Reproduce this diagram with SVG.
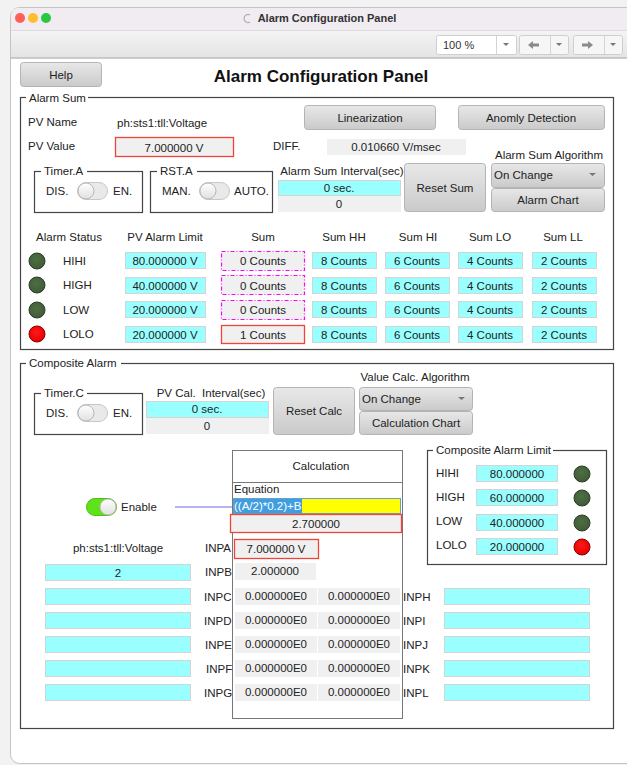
<svg xmlns="http://www.w3.org/2000/svg" width="627" height="765" viewBox="0 0 627 765">
<defs>
<linearGradient id="btn" x1="0" y1="0" x2="0" y2="1"><stop offset="0" stop-color="#e8e8e8"/><stop offset="1" stop-color="#cacaca"/></linearGradient>
<linearGradient id="tb" x1="0" y1="0" x2="0" y2="1"><stop offset="0" stop-color="#f4f4f4"/><stop offset="1" stop-color="#e4e4e4"/></linearGradient>
<linearGradient id="knob" x1="0" y1="0" x2="0" y2="1"><stop offset="0" stop-color="#ffffff"/><stop offset="1" stop-color="#e0e0e0"/></linearGradient>
<radialGradient id="ledg" cx="0.45" cy="0.4" r="0.6"><stop offset="0" stop-color="#4f6e45"/><stop offset="1" stop-color="#3f5c36"/></radialGradient>
<radialGradient id="ledr" cx="0.45" cy="0.4" r="0.6"><stop offset="0" stop-color="#ff1a1a"/><stop offset="1" stop-color="#e60000"/></radialGradient>
</defs>
<style>
text{font-family:"Liberation Sans",Arial,sans-serif;font-size:11.5px;fill:#222}
.c{text-anchor:middle}
.r{text-anchor:end}
.btn{fill:url(#btn);stroke:#b4b4b4;stroke-width:1}
.cy{fill:#99ffff;stroke:#d4d4d4;stroke-width:1}
.gy{fill:#f0f0f0;stroke:none}
.gb{fill:none;stroke:#444;stroke-width:1.2}
.lbl{fill:#fff}
.red{fill:#f0f0f0;stroke:#f0433a;stroke-width:1.3}
.mag{fill:#f0f0f0;stroke:#ff00ff;stroke-width:1.2;stroke-dasharray:4 2 1 2}
.ledg{fill:url(#ledg);stroke:#2b3d25;stroke-width:1}
.ledr{fill:url(#ledr);stroke:#8a0000;stroke-width:1}
.tog{fill:#e9e9e9;stroke:#c8c8c8;stroke-width:1}
.kn{fill:url(#knob);stroke:#b8b8b8;stroke-width:1}
.arr{fill:#777}
</style>
<rect width="627" height="765" fill="#f2f2f2"/>
<!-- window -->
<g id="window">
<rect x="10.5" y="7.5" width="630" height="756" rx="9" fill="#ffffff" stroke="#c4c4c4"/>
<path d="M11,30 V16 Q11,8 19,8 H627 V30 Z" fill="#f0ecf2"/>
<rect x="11" y="30" width="616" height="28" fill="url(#tb)"/>
<line x1="11" y1="30.5" x2="627" y2="30.5" stroke="#dcdcdc"/>
<line x1="11" y1="58" x2="627" y2="58" stroke="#bdbdbd" stroke-width="1.5"/>
<circle cx="20" cy="18" r="5" fill="#fe5f57"/>
<circle cx="33" cy="18" r="5" fill="#febc2e"/>
<circle cx="46" cy="18" r="5" fill="#28c840"/>
<path d="M250,15 A4,4 0 1 0 250,22" fill="none" stroke="#b0b0b0" stroke-width="1.2"/>
<text x="327" y="22" class="c" style="font-size:11px;font-weight:bold;fill:#333">Alarm Configuration Panel</text>
</g>
<g id="toolbar">
<rect x="436.5" y="35.5" width="80" height="19" rx="2" fill="#fff" stroke="#cfcfcf"/>
<line x1="496.5" y1="36" x2="496.5" y2="54" stroke="#d4d4d4"/>
<text x="443" y="49" style="font-size:11px;fill:#333">100 %</text>
<path d="M503,43 h6 l-3,3 z" class="arr"/>
<rect x="519.5" y="35.5" width="49" height="19" rx="2" fill="#f6f6f6" stroke="#cfcfcf"/>
<line x1="550.5" y1="36" x2="550.5" y2="54" stroke="#d4d4d4"/>
<path d="M528,45 l5,-4 v2.5 h6 v3 h-6 v2.5 z" fill="#8a8a8a"/>
<path d="M556,43 h6 l-3,3 z" class="arr"/>
<rect x="573.5" y="35.5" width="49" height="19" rx="2" fill="#f6f6f6" stroke="#cfcfcf"/>
<line x1="604.5" y1="36" x2="604.5" y2="54" stroke="#d4d4d4"/>
<path d="M593,45 l-5,-4 v2.5 h-6 v3 h6 v2.5 z" fill="#8a8a8a"/>
<path d="M610,43 h6 l-3,3 z" class="arr"/>
</g>
<!-- header -->
<g id="help"><rect x="20.5" y="62.5" width="81" height="24" rx="3" class="btn"/><text x="61" y="79" class="c">Help</text></g>
<text id="title" x="321" y="82" class="c" style="font-size:17px;font-weight:bold;fill:#111">Alarm Configuration Panel</text>
<!-- Alarm Sum group -->
<g id="alarmSum">
<rect x="20.5" y="97.5" width="593" height="252" class="gb"/>
<rect x="26" y="90" width="62" height="14" class="lbl"/>
<text x="29" y="102">Alarm Sum</text>
</g>
<g id="pvName"><text x="28" y="126">PV Name</text><text x="117" y="127">ph:sts1:tll:Voltage</text></g>
<g id="pvValue"><text x="28" y="150">PV Value</text><rect x="115.5" y="137.5" width="118" height="19" class="red"/><text x="174" y="152" class="c">7.000000 V</text></g>
<g id="diff"><text x="273" y="150">DIFF.</text><rect x="327" y="139" width="139" height="16" class="gy"/><text x="396" y="151" class="c">0.010660 V/msec</text></g>
<g id="linearization"><rect x="304.5" y="105.5" width="131" height="24" rx="3" class="btn"/><text x="370" y="122" class="c">Linearization</text></g>
<g id="anomaly"><rect x="458.5" y="105.5" width="146" height="24" rx="3" class="btn"/><text x="531" y="122" class="c">Anomly Detection</text></g>
<g id="timerA">
<rect x="34.5" y="171.5" width="108" height="41" class="gb"/>
<rect x="41" y="164" width="46" height="14" class="lbl"/>
<text x="44" y="175">Timer.A</text>
<text x="46" y="195">DIS.</text>
<rect x="77.5" y="182.5" width="30" height="17" rx="8.5" class="tog"/>
<circle cx="86" cy="191" r="8" class="kn"/>
<text x="113" y="195">EN.</text>
</g>
<g id="rstA">
<rect x="150.5" y="171.5" width="122" height="41" class="gb"/>
<rect x="157" y="164" width="40" height="14" class="lbl"/>
<text x="160" y="175">RST.A</text>
<text x="162" y="195">MAN.</text>
<rect x="199.5" y="182.5" width="30" height="17" rx="8.5" class="tog"/>
<circle cx="208" cy="191" r="8" class="kn"/>
<text x="234" y="195">AUTO.</text>
</g>
<g id="sumInterval">
<text x="342" y="175" class="c">Alarm Sum Interval(sec)</text>
<rect x="278.5" y="180.5" width="122" height="15" class="cy"/><text x="339" y="192" class="c">0 sec.</text>
<rect x="278" y="196" width="123" height="16" class="gy"/><text x="339" y="208" class="c">0</text>
</g>
<g id="resetSum"><rect x="404.5" y="163.5" width="81" height="48" rx="3" class="btn"/><text x="445" y="192" class="c">Reset Sum</text></g>
<g id="sumAlgo">
<text x="549" y="159" class="c">Alarm Sum Algorithm</text>
<rect x="491.5" y="163.5" width="113" height="24" rx="3" class="btn"/>
<text x="494" y="179">On Change</text><path d="M589,173 h7 l-3.5,3 z" class="arr"/>
<rect x="491.5" y="188.5" width="113" height="23" rx="3" class="btn"/><text x="548" y="204" class="c">Alarm Chart</text>
</g>
<!-- table -->
<g id="tableHeader">
<text x="69" y="241" class="c">Alarm Status</text>
<text x="165" y="241" class="c">PV Alarm Limit</text>
<text x="263" y="241" class="c">Sum</text>
<text x="344" y="241" class="c">Sum HH</text>
<text x="418" y="241" class="c">Sum HI</text>
<text x="490" y="241" class="c">Sum LO</text>
<text x="563" y="241" class="c">Sum LL</text>
</g>
<g id="rowHIHI">
<circle cx="37" cy="261" r="8" class="ledg"/><text x="63" y="265">HIHI</text>
<rect x="125.5" y="252.5" width="80" height="16" class="cy"/><text x="165" y="265" class="c">80.000000 V</text>
<rect x="221.5" y="251.5" width="83" height="19" class="mag"/><text x="263" y="265" class="c">0 Counts</text>
<rect x="312.5" y="252.5" width="64" height="16" class="cy"/><text x="344" y="265" class="c">8 Counts</text>
<rect x="385.5" y="252.5" width="64" height="16" class="cy"/><text x="417" y="265" class="c">6 Counts</text>
<rect x="458.5" y="252.5" width="64" height="16" class="cy"/><text x="490" y="265" class="c">4 Counts</text>
<rect x="532.5" y="252.5" width="64" height="16" class="cy"/><text x="564" y="265" class="c">2 Counts</text>
</g>
<g id="rowHIGH">
<circle cx="37" cy="285" r="8" class="ledg"/><text x="63" y="289">HIGH</text>
<rect x="125.5" y="277.5" width="80" height="16" class="cy"/><text x="165" y="290" class="c">40.000000 V</text>
<rect x="221.5" y="275.5" width="83" height="19" class="mag"/><text x="263" y="290" class="c">0 Counts</text>
<rect x="312.5" y="277.5" width="64" height="16" class="cy"/><text x="344" y="290" class="c">8 Counts</text>
<rect x="385.5" y="277.5" width="64" height="16" class="cy"/><text x="417" y="290" class="c">6 Counts</text>
<rect x="458.5" y="277.5" width="64" height="16" class="cy"/><text x="490" y="290" class="c">4 Counts</text>
<rect x="532.5" y="277.5" width="64" height="16" class="cy"/><text x="564" y="290" class="c">2 Counts</text>
</g>
<g id="rowLOW">
<circle cx="37" cy="310" r="8" class="ledg"/><text x="63" y="314">LOW</text>
<rect x="125.5" y="301.5" width="80" height="16" class="cy"/><text x="165" y="314" class="c">20.000000 V</text>
<rect x="221.5" y="300.5" width="83" height="19" class="mag"/><text x="263" y="314" class="c">0 Counts</text>
<rect x="312.5" y="301.5" width="64" height="16" class="cy"/><text x="344" y="314" class="c">8 Counts</text>
<rect x="385.5" y="301.5" width="64" height="16" class="cy"/><text x="417" y="314" class="c">6 Counts</text>
<rect x="458.5" y="301.5" width="64" height="16" class="cy"/><text x="490" y="314" class="c">4 Counts</text>
<rect x="532.5" y="301.5" width="64" height="16" class="cy"/><text x="564" y="314" class="c">2 Counts</text>
</g>
<g id="rowLOLO">
<circle cx="37" cy="334" r="8" class="ledr"/><text x="63" y="338">LOLO</text>
<rect x="125.5" y="326.5" width="80" height="16" class="cy"/><text x="165" y="339" class="c">20.000000 V</text>
<rect x="221.5" y="325.5" width="83" height="18" class="red"/><text x="263" y="339" class="c">1 Counts</text>
<rect x="312.5" y="326.5" width="64" height="16" class="cy"/><text x="344" y="339" class="c">8 Counts</text>
<rect x="385.5" y="326.5" width="64" height="16" class="cy"/><text x="417" y="339" class="c">6 Counts</text>
<rect x="458.5" y="326.5" width="64" height="16" class="cy"/><text x="490" y="339" class="c">4 Counts</text>
<rect x="532.5" y="326.5" width="64" height="16" class="cy"/><text x="564" y="339" class="c">2 Counts</text>
</g>
<!-- Composite Alarm group -->
<g id="compositeAlarm">
<rect x="20.5" y="363.5" width="593" height="365" class="gb"/>
<rect x="26" y="356" width="95" height="14" class="lbl"/>
<text x="29" y="367">Composite Alarm</text>
</g>
<g id="timerC">
<rect x="34.5" y="393.5" width="108" height="41" class="gb"/>
<rect x="41" y="386" width="46" height="14" class="lbl"/>
<text x="44" y="397">Timer.C</text>
<text x="46" y="417">DIS.</text>
<rect x="77.5" y="404.5" width="30" height="17" rx="8.5" class="tog"/>
<circle cx="86" cy="413" r="8" class="kn"/>
<text x="113" y="417">EN.</text>
</g>
<g id="calInterval">
<text x="211" y="397" class="c" xml:space="preserve">PV Cal.  Interval(sec)</text>
<rect x="146.5" y="401.5" width="122" height="16" class="cy"/><text x="207" y="413" class="c">0 sec.</text>
<rect x="146" y="418" width="123" height="16" class="gy"/><text x="207" y="430" class="c">0</text>
</g>
<g id="resetCalc"><rect x="273.5" y="387.5" width="81" height="47" rx="3" class="btn"/><text x="314" y="415" class="c">Reset Calc</text></g>
<g id="calcAlgo">
<text x="415" y="381" class="c">Value Calc. Algorithm</text>
<rect x="359.5" y="387.5" width="113" height="23" rx="3" class="btn"/>
<text x="362" y="403">On Change</text><path d="M458,397 h7 l-3.5,3 z" class="arr"/>
<rect x="359.5" y="411.5" width="113" height="23" rx="3" class="btn"/><text x="416" y="427" class="c">Calculation Chart</text>
</g>
<g id="enable">
<rect x="86.5" y="498.5" width="30" height="17" rx="8.5" fill="#5fe21a" stroke="#4cc010"/>
<circle cx="108" cy="507" r="8" class="kn"/>
<text x="121" y="511">Enable</text>
</g>
<g id="connectors">
<line x1="175" y1="507" x2="233" y2="507" stroke="#6a6ae8" stroke-width="1.2"/>
</g>
<g id="calculation">
<rect x="232.5" y="450.5" width="170" height="268" fill="#fff" stroke="#777"/>
<line x1="233" y1="482.5" x2="402" y2="482.5" stroke="#777"/>
<text x="321" y="470" class="c">Calculation</text>
<text x="234" y="493">Equation</text>
<rect x="233.5" y="498.5" width="167" height="15" fill="#ffff00" stroke="#6aa0c8"/>
<rect x="234" y="499" width="68" height="14" fill="#3f9ee0"/>
<text x="234" y="510" style="fill:#fff">((A/2)*0.2)+B</text>
<rect x="230.5" y="514.5" width="171" height="18" class="red"/>
<text x="316" y="528" class="c">2.700000</text>
</g>
<g id="inpa">
<text x="118" y="552" class="c">ph:sts1:tll:Voltage</text>
<text x="205" y="552">INPA</text>
<rect x="234.5" y="539.5" width="84" height="19" class="red"/><text x="276" y="553" class="c">7.000000 V</text>
</g>
<g id="inpb">
<rect x="45.5" y="564.5" width="145" height="16" class="cy"/><text x="118" y="577" class="c">2</text>
<text x="205" y="576">INPB</text>
<rect x="235" y="563" width="81" height="17" class="gy"/><text x="275" y="575" class="c">2.000000</text>
</g>
<g id="inpcInph">
<rect x="45.5" y="588.5" width="145" height="16" class="cy"/>
<text x="204" y="601">INPC</text>
<rect x="235" y="588" width="82" height="17" class="gy"/><text x="276" y="600" class="c">0.000000E0</text>
<rect x="318" y="588" width="82" height="17" class="gy"/><text x="359" y="600" class="c">0.000000E0</text>
<text x="403" y="601">INPH</text>
<rect x="444.5" y="588.5" width="145" height="16" class="cy"/>
</g>
<g id="inpdInpi">
<rect x="45.5" y="612.5" width="145" height="16" class="cy"/>
<text x="204" y="625">INPD</text>
<rect x="235" y="612" width="82" height="17" class="gy"/><text x="276" y="624" class="c">0.000000E0</text>
<rect x="318" y="612" width="82" height="17" class="gy"/><text x="359" y="624" class="c">0.000000E0</text>
<text x="403" y="625">INPI</text>
<rect x="444.5" y="612.5" width="145" height="16" class="cy"/>
</g>
<g id="inpeInpj">
<rect x="45.5" y="636.5" width="145" height="16" class="cy"/>
<text x="205" y="649">INPE</text>
<rect x="235" y="636" width="82" height="17" class="gy"/><text x="276" y="648" class="c">0.000000E0</text>
<rect x="318" y="636" width="82" height="17" class="gy"/><text x="359" y="648" class="c">0.000000E0</text>
<text x="403" y="649">INPJ</text>
<rect x="444.5" y="636.5" width="145" height="16" class="cy"/>
</g>
<g id="inpfInpk">
<rect x="45.5" y="660.5" width="145" height="16" class="cy"/>
<text x="206" y="673">INPF</text>
<rect x="235" y="660" width="82" height="17" class="gy"/><text x="276" y="672" class="c">0.000000E0</text>
<rect x="318" y="660" width="82" height="17" class="gy"/><text x="359" y="672" class="c">0.000000E0</text>
<text x="403" y="673">INPK</text>
<rect x="444.5" y="660.5" width="145" height="16" class="cy"/>
</g>
<g id="inpgInpl">
<rect x="45.5" y="684.5" width="145" height="16" class="cy"/>
<text x="204" y="697">INPG</text>
<rect x="235" y="684" width="82" height="17" class="gy"/><text x="276" y="696" class="c">0.000000E0</text>
<rect x="318" y="684" width="82" height="17" class="gy"/><text x="359" y="696" class="c">0.000000E0</text>
<text x="403" y="697">INPL</text>
<rect x="444.5" y="684.5" width="145" height="16" class="cy"/>
</g>
<g id="compositeLimit">
<rect x="427.5" y="450.5" width="179" height="114" class="gb"/>
<rect x="433" y="443" width="120" height="14" class="lbl"/>
<text x="436" y="454">Composite Alarm Limit</text>
<text x="436" y="477">HIHI</text>
<rect x="476.5" y="465.5" width="81" height="16" class="cy"/><text x="517" y="478" class="c">80.000000</text>
<circle cx="582" cy="474" r="8" class="ledg"/>
<text x="436" y="501">HIGH</text>
<rect x="476.5" y="489.5" width="81" height="16" class="cy"/><text x="517" y="502" class="c">60.000000</text>
<circle cx="582" cy="498" r="8" class="ledg"/>
<text x="436" y="525">LOW</text>
<rect x="476.5" y="514.5" width="81" height="16" class="cy"/><text x="517" y="527" class="c">40.000000</text>
<circle cx="582" cy="523" r="8" class="ledg"/>
<text x="436" y="549">LOLO</text>
<rect x="476.5" y="538.5" width="81" height="16" class="cy"/><text x="517" y="551" class="c">20.000000</text>
<circle cx="582" cy="547" r="8" class="ledr"/>
</g>
</svg>
